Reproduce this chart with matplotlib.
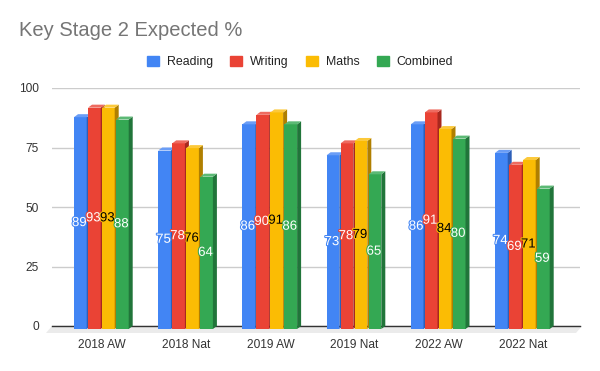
import numpy as np
import matplotlib.pyplot as plt
from matplotlib.patches import Polygon
import matplotlib.patheffects as pe

plt.rcParams['font.family'] = ['Liberation Sans', 'DejaVu Sans']

categories = ['2018 AW', '2018 Nat', '2019 AW', '2019 Nat', '2022 AW', '2022 Nat']
series = ['Reading', 'Writing', 'Maths', 'Combined']
reading = [89, 75, 86, 73, 86, 74]
writing = [93, 78, 90, 78, 91, 69]
maths = [93, 76, 91, 79, 84, 71]
combined = [88, 64, 86, 65, 80, 59]

front_col = ['#4285f4', '#ea4335', '#fbbc04', '#34a853']
side_col = ['#2c5fb8', '#a8281e', '#b07f00', '#21753a']
top_col = ['#6a9df6', '#ee6b60', '#fcc93a', '#5cb975']
text_col = ['white', 'white', 'black', 'white']

W, H = 600, 371
fig = plt.figure(figsize=(6, 3.71), dpi=100)
# axes box in pixels: x 52..580, y(back plane) 326 (0) .. 88 (100)
ax = fig.add_axes([52 / W, (H - 326) / H, 528 / W, 238 / H])
ax.set_ylim(0, 100)
pitch = 84.2
ax.set_xlim(-(102 - 52) / pitch, 5 + (580 - 523) / pitch)

px_x = 1 / pitch          # data units per pixel in x
px_y = 100 / 238          # data units per pixel in y
bw = 14 * px_x            # bar pitch
fw = 12.7 * px_x          # front face width
dx = 4 * px_x
dy = 3 * px_y

ax.set_yticks([0, 25, 50, 75, 100])
ax.grid(axis='y', color='#cccccc', linewidth=1)
ax.set_axisbelow(True)
for s in ax.spines.values():
    s.set_visible(False)
ax.tick_params(length=0, labelsize=8.6, labelcolor='#333333')
ax.tick_params(axis='y', pad=9.4)
ax.tick_params(axis='x', pad=9.5)
ax.set_xticks(range(len(categories)))
ax.set_xticklabels(categories)

# floor
x0, x1 = ax.get_xlim()
floor = Polygon([(x0, 0), (x1 + 2 * px_x, 0), (x1 - 4 * px_x, -7 * px_y), (x0 - 6 * px_x, -7 * px_y)],
                closed=True, facecolor='#ebebeb', edgecolor='none', clip_on=False, zorder=1)
ax.add_patch(floor)
ax.plot([x0, x1], [0, 0], color='#333333', linewidth=1, clip_on=False, zorder=1.5)

data = [reading, writing, maths, combined]
for i in range(len(categories)):
    for j, vals in enumerate(data):
        v = vals[i]
        left = i + (j - 2) * bw
        right = left + fw
        z = 2 + j * 0.1
        ax.bar(left, v, width=fw, bottom=-dy, align='edge', color=front_col[j],
               linewidth=0, clip_on=False, zorder=z)
        ax.add_patch(Polygon([(right, -dy), (right + dx, 0), (right + dx, v), (right, v - dy)],
                             closed=True, facecolor=side_col[j], edgecolor='none',
                             clip_on=False, zorder=z))
        ax.add_patch(Polygon([(left, v - dy), (right, v - dy), (right + dx, v), (left + dx, v)],
                             closed=True, facecolor=top_col[j], edgecolor='none',
                             clip_on=False, zorder=z))
        ax.text(left + fw / 2 - 1 * px_x, v / 2 - dy, str(v), ha='center', va='center',
                fontsize=9.5, color=text_col[j], zorder=5,
                path_effects=[pe.withStroke(linewidth=1.5, foreground=front_col[j])])

# legend
handles = [plt.Rectangle((0, 0), 1, 1, color=c) for c in front_col]
fig.legend(handles, series, loc='center', bbox_to_anchor=(0.5, 1 - 62 / H), ncol=4,
           frameon=False, fontsize=8.9, handlelength=0.97, handleheight=0.97,
           handletextpad=0.65, columnspacing=1.38, labelcolor='#222222')

fig.text(19 / W, 1 - 30 / H, 'Key Stage 2 Expected %', fontsize=14.5, color='#757575',
         ha='left', va='center')

fig.savefig('out.png', dpi=100, facecolor='white')
